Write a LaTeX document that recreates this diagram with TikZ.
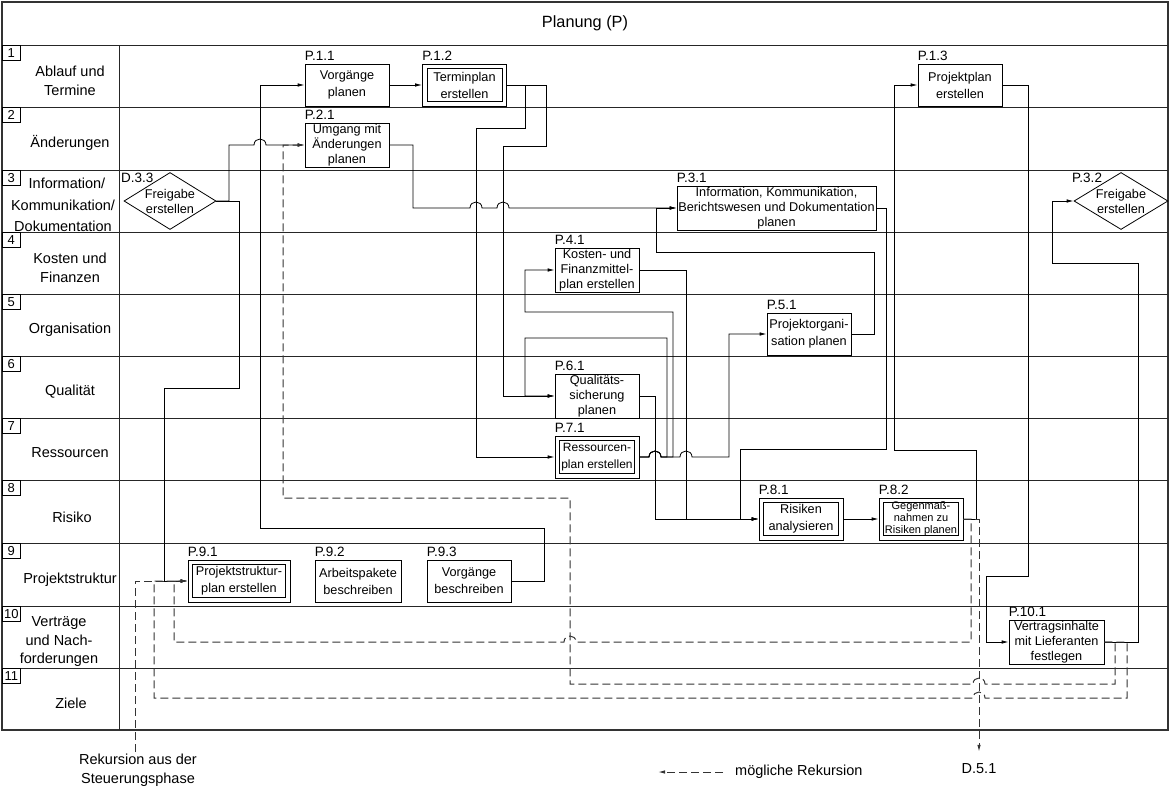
\documentclass[tikz,border=0pt]{standalone}
\usepackage{fontspec}
\setmainfont{Liberation Sans}
\usetikzlibrary{arrows.meta,shapes.geometric}
\newcommand\jumpR[2]{-- ({#1-6},#2) .. controls ({#1-6},{#2-8}) and ({#1+6},{#2-8}) .. ({#1+6},#2)}
\newcommand\jumpL[2]{-- ({#1+6},#2) .. controls ({#1+6},{#2-8}) and ({#1-6},{#2-8}) .. ({#1-6},#2)}
\tikzset{
  nodefont/.style={font=\fontsize{12.7}{15}\selectfont},
  two/.style={font=\fontsize{12.7}{17}\selectfont},
  basebox/.style={draw, line width=0.8pt, align=center, inner sep=1pt, nodefont},
  box/.style={basebox, minimum width=84pt, minimum height=42pt, label={[plab]north west:#1}},
  dbox/.style={basebox, minimum width=84pt, minimum height=42pt, label={[plab]north west:#1},
    path picture={\draw[line width=0.8pt] ([shift={(4.5pt,4.5pt)}]path picture bounding box.south west) rectangle ([shift={(-4.5pt,-4.5pt)}]path picture bounding box.north east);}},
  plab/.style={anchor=base west, inner sep=0pt, yshift=3.5pt, font=\fontsize{13.5}{14}\selectfont},
  dia/.style={draw, diamond, aspect=1.6, minimum width=92pt, minimum height=57pt, inner sep=0pt, line width=0.8pt, align=center, nodefont},
  dlabel/.style={anchor=base west, inner sep=0pt, font=\fontsize{13.5}{14}\selectfont},
  rowlab/.style={align=center, inner sep=0pt, font=\fontsize{14.5}{19}\selectfont},
  numbox/.style={draw, line width=0.7pt, anchor=north west, minimum width=18pt, minimum height=15pt, inner sep=0pt, font=\fontsize{13}{13}\selectfont},
  grid/.style={line width=0.9pt, black!85},
  frame/.style={line width=1.3pt, black!80},
  arr/.style={line width=0.8pt, -{Latex[length=7pt,width=3.5pt]}},
  darr/.style={arr, line width=1pt, black!80, dash pattern=on 8pt off 4pt},
  txt/.style={inner sep=2pt, font=\fontsize{14.5}{19}\selectfont, align=center}
}
\begin{document}
\begin{tikzpicture}[x=1pt,y=-1pt]
\useasboundingbox (0,0) rectangle (1170,795);
% frame and grid
\draw[frame] (2,2) rectangle (1168,730);
\foreach \y in {45,107,170,232,294,356,418,480,543,606,668}
  \draw[grid] (2,\y) -- (1168,\y);
\draw[grid] (119,45) -- (119,730);
\node[font=\fontsize{16.3}{18}\selectfont] (title) at (585,23) {Planung (P)};
% row numbers
\foreach \n/\y in {1/45,2/107,3/170,4/232,5/294,6/356,7/418,8/480,9/543,10/606,11/668}
  \node[numbox] (n\n) at (2,\y) {\n};
% row labels
\node[rowlab] (r1) at (70,81) {Ablauf und\\Termine};
\node[rowlab] (r2) at (70,143) {Änderungen};
\node[rowlab, font=\fontsize{14.5}{21.5}\selectfont] (r3) at (63,205) {\hspace*{8pt}Information/\\Kommunikation/\\Dokumentation};
\node[rowlab] (r4) at (70,268) {Kosten und\\Finanzen};
\node[rowlab] (r5) at (70,330) {Organisation};
\node[rowlab] (r6) at (70,392) {Qualität};
\node[rowlab] (r7) at (70,453) {Ressourcen};
\node[rowlab] (r8) at (72,517) {Risiko};
\node[rowlab] (r9) at (70,580) {Projektstruktur};
\node[rowlab, font=\fontsize{14.5}{18.5}\selectfont] (r10) at (59,642) {Verträge\\und Nach-\\forderungen};
\node[rowlab] (r11) at (71,703) {Ziele};
% process nodes
\node[box=P.1.1, two] (p11) at (347,85) {Vorgänge\\planen};
\node[dbox=P.1.2, two] (p12) at (464.5,85) {Terminplan\\erstellen};
\node[box=P.1.3, two] (p13) at (960,85) {Projektplan\\erstellen};
\node[box=P.2.1] (p21) at (347,145) {Umgang mit\\Änderungen\\planen};
\node[box=P.3.1, minimum width=199pt] (p31) at (776.5,208) {Information, Kommunikation,\\Berichtswesen und Dokumentation\\planen};
\node[box=P.4.1] (p41) at (597,270) {Kosten- und\\Finanzmittel-\\plan erstellen};
\node[box=P.5.1, two] (p51) at (809,334) {Projektorgani-\\sation planen};
\node[box=P.6.1] (p61) at (597,396) {Qualitäts-\\sicherung\\planen};
\node[dbox=P.7.1, font=\fontsize{12}{17}\selectfont] (p71) at (597,457) {Ressourcen-\\plan erstellen};
\node[dbox=P.8.1, two] (p81) at (801,519) {Risiken\\analysieren};
\node[dbox=P.8.2, font=\fontsize{11}{12}\selectfont] (p82) at (921,519) {Gegenmaß-\\nahmen zu\\Risiken planen};
\node[dbox=P.9.1, two, minimum width=102pt] (p91) at (239,581) {Projektstruktur-\\plan erstellen};
\node[box=P.9.2, two, minimum width=86pt] (p92) at (358,581) {Arbeitspakete\\beschreiben};
\node[box=P.9.3, two] (p93) at (469,581) {Vorgänge\\beschreiben};
\node[box=P.10.1, minimum width=95pt, minimum height=44pt] (p101) at (1056.5,642) {Vertragsinhalte\\mit Lieferanten\\festlegen};
\node[dia] (d33) at (170,201) {Freigabe\\erstellen};
\node[dlabel] (d33l) at (121,182) {D.3.3};
\node[dia, minimum width=94pt] (p32) at (1121,201) {Freigabe\\erstellen};
\node[dlabel] (p32l) at (1072,182) {P.3.2};
% external texts
\node[txt, anchor=base, inner sep=3pt] (d51) at (979,773) {D.5.1};
\node[txt] (rek) at (138,770) {Rekursion aus der\\Steuerungsphase};
\node[txt, anchor=west] (leg) at (733,772) {mögliche Rekursion};
% solid connectors
\draw[arr] (d33.east) -- (229,201) -- (229,145) \jumpR{260}{145} -- (p21.west);
\draw[arr] (d33.east) -- (239,201) -- (239,388) -- (164,388) -- (164,581) -- (p91.west);
\draw[arr] (p93.east) -- (544,581) -- (544,528) -- (260,528) -- (260,85) -- (p11.west);
\draw[arr] (p11.east) -- (p12.west);
\draw[arr] (p12.east) -- (525,85) -- (525,128) -- (476,128) -- (476,457) -- (p71.west);
\draw[arr] (p12.east) -- (546,85) -- (546,146) -- (503,146) -- (503,396) -- (p61.west);
\draw[arr] (p21.east) -- (413,145) -- (413,208) \jumpR{476}{208} \jumpR{503}{208} -- (p31.west);
\draw[arr] (p51.east) -- (874,334) -- (874,252) -- (656,252) -- (656,208) -- (p31.west);
\draw[arr] (p31.east) -- (886,208) -- (886,449) -- (740,449) -- (740,519) -- (p81.west);
\draw[arr] (p71.east) \jumpR{655}{457} -- (673,457) -- (673,312) -- (525,312) -- (525,270) -- (p41.west);
\draw[arr] (p71.east) \jumpR{655}{457} -- (667,457) -- (667,338) -- (525,338) -- (525,396) -- (p61.west);
\draw[arr] (p71.east) \jumpR{655}{457} \jumpR{686}{457} -- (729,457) -- (729,334) -- (p51.west);
\draw[arr] (p41.east) -- (686,270) -- (686,519) -- (p81.west);
\draw[arr] (p61.east) -- (655,396) -- (655,519) -- (p81.west);
\draw[arr] (p81.east) -- (p82.west);
\draw[arr] (p82.east) -- (976,519) -- (976,450) -- (894,450) -- (894,85) -- (p13.west);
\draw[arr] (p13.east) -- (1028,85) -- (1028,576) -- (986,576) -- (986,642) -- (p101.west);
\draw[arr] (p101.east) -- (1138,642) -- (1138,263) -- (1052,263) -- (1052,201) -- (p32.west);
% dashed connectors (possible recursion)
\draw[darr] (p82.east) -- (971,519) -- (971,642) \jumpL{570}{642} -- (174,642) -- (174,581) -- (p91.west);
\draw[darr, shorten >=8pt] (p82.east) -- (979,519) -- (d51.north);
\draw[darr] (p101.east) -- (1115,642) -- (1115,684) \jumpL{979}{684} -- (570,684) -- (570,498) -- (283,498) -- (283,145) -- (p21.west);
\draw[darr] (p101.east) -- (1127,642) -- (1127,698) \jumpL{979}{698} -- (154,698) -- (154,581) -- (p91.west);
\draw[darr] ([xshift=-3pt]rek.north) |- (p91.west);
% legend
\draw[darr] ([xshift=-10pt]leg.west) -- ++(-65,0);
\end{tikzpicture}
\end{document}
